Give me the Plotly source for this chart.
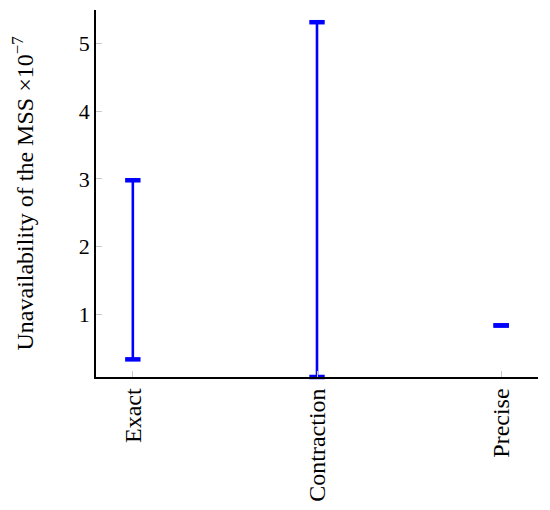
import plotly.graph_objects as go

categories = ["Exact", "Contraction", "Precise"]
lower = [0.34, 0.08, 0.84]
upper = [2.98, 5.31, 0.84]

blue = "#0000FF"
fig = go.Figure()

for c, lo, hi in zip(categories, lower, upper):
    if hi > lo:
        fig.add_trace(go.Scatter(x=[c, c], y=[lo, hi], mode="lines",
                                 line=dict(color=blue, width=2.6),
                                 showlegend=False, hoverinfo="skip", cliponaxis=False))
    fig.add_trace(go.Scatter(x=[c, c], y=[lo, hi], mode="markers",
                             marker=dict(symbol="line-ew-open", size=11, color=blue,
                                         line=dict(color=blue, width=4.5)),
                             showlegend=False, cliponaxis=False))

font = "Liberation Serif"
fig.update_layout(
    width=550, height=510,
    margin=dict(l=88, r=20, t=2, b=141, autoexpand=False),
    plot_bgcolor="white", paper_bgcolor="white",
    font=dict(family=font, size=22, color="black"),
)
fig.update_xaxes(
    type="category", range=[-0.2, 2.2], automargin=False,
    showline=True, linecolor="black", linewidth=1.6,
    ticks="inside", ticklen=6, tickcolor="#c8c8c8", tickwidth=1,
    tickangle=-90, tickfont=dict(family=font, size=24),
    showgrid=False, zeroline=False,
)
fig.update_yaxes(
    range=[0.08, 5.49], automargin=False,
    tickvals=[1, 2, 3, 4, 5],
    showline=True, linecolor="black", linewidth=1.6,
    ticks="inside", ticklen=6, tickcolor="#c8c8c8", tickwidth=1,
    tickfont=dict(family=font, size=22),
    showgrid=False, zeroline=False,
    title=dict(text="Unavailability of the MSS ×10<sup>−7</sup>",
               font=dict(family=font, size=24), standoff=47),
)

fig.write_html("out.html")
